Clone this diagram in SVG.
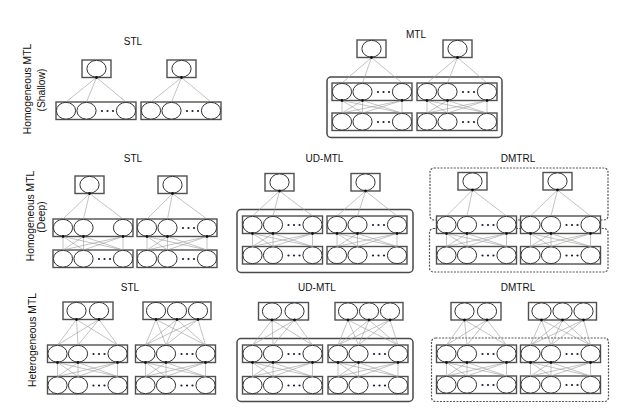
<svg xmlns="http://www.w3.org/2000/svg" xmlns:xlink="http://www.w3.org/1999/xlink" width="631" height="419" viewBox="0 0 631 419">
<style>
.box{fill:#fff;stroke:#505050;stroke-width:1.4}
.n{fill:#fff;stroke:#333;stroke-width:1}
.dot{fill:#1c1c3a}
.c{fill:none;stroke:#9a9a9a;stroke-width:0.6}
.ah{fill:#111}
.frame{fill:none;stroke:#4a4a4a;stroke-width:1.5}
.dash{fill:none;stroke:#555;stroke-width:1.2;stroke-dasharray:2 1.3}
.t{font-family:"Liberation Sans",Arial,sans-serif;font-size:10px;fill:#111;text-anchor:middle}
.lbl{font-family:"Liberation Sans",Arial,sans-serif;font-size:10.3px;fill:#111;text-anchor:middle}
</style>
<defs>
<g id="lay0">
<rect class="box" x="0" y="0" width="80" height="17.5"/>
<ellipse class="n" cx="10" cy="8.75" rx="9.6" ry="8.4"/>
<ellipse class="n" cx="30.5" cy="8.75" rx="9.6" ry="8.4"/>
<ellipse class="n" cx="70" cy="8.75" rx="9.6" ry="8.4"/>
</g>
<g id="lay">
<use href="#lay0"/>
<circle class="dot" cx="46" cy="9" r="1.1"/>
<circle class="dot" cx="51.5" cy="9" r="1.1"/>
<circle class="dot" cx="57" cy="9" r="1.1"/>
</g>
<g id="o1">
<rect class="box" x="0" y="0" width="29" height="17.5"/>
<ellipse class="n" cx="14.5" cy="8.75" rx="9.6" ry="8.4"/>
</g>
<g id="o2">
<rect class="box" x="0" y="0" width="50" height="17.5"/>
<ellipse class="n" cx="13.5" cy="8.75" rx="9.6" ry="8.4"/>
<ellipse class="n" cx="36" cy="8.75" rx="9.6" ry="8.4"/>
</g>
<g id="o3">
<rect class="box" x="0" y="0" width="68" height="17.5"/>
<ellipse class="n" cx="13" cy="8.75" rx="9.6" ry="8.4"/>
<ellipse class="n" cx="34" cy="8.75" rx="9.6" ry="8.4"/>
<ellipse class="n" cx="55" cy="8.75" rx="9.6" ry="8.4"/>
</g>
</defs>
<rect x="0" y="0" width="631" height="419" fill="#fff"/>

<g id="labels">
<text class="lbl" transform="translate(31,89) rotate(-90)">Homogeneous MTL</text>
<text class="lbl" transform="translate(44.5,90) rotate(-90)">(Shallow)</text>
<text class="lbl" transform="translate(34,216) rotate(-90)">Homogeneous MTL</text>
<text class="lbl" transform="translate(44.5,217) rotate(-90)">(Deep)</text>
<text class="lbl" transform="translate(36,340) rotate(-90)">Heterogeneous MTL</text>
<text class="t" x="133" y="45">STL</text>
<text class="t" x="416" y="38">MTL</text>
<text class="t" x="133" y="161.5">STL</text>
<text class="t" x="324.5" y="161.5">UD-MTL</text>
<text class="t" x="518" y="161.5">DMTRL</text>
<text class="t" x="130" y="291">STL</text>
<text class="t" x="317" y="291">UD-MTL</text>
<text class="t" x="518" y="291">DMTRL</text>
</g>

<g id="frames">
<rect id="f-mtl1" class="frame" x="327" y="77" width="175" height="60.5" rx="4"/>
<rect id="f-ud2" class="frame" x="237" y="209.5" width="176" height="63" rx="4"/>
<rect id="f-dm2a" class="dash" x="430" y="168" width="178" height="52" rx="4"/>
<rect id="f-dm2b" class="dash" x="429.5" y="228.5" width="178.5" height="43.5" rx="4"/>
<rect id="f-ud3" class="frame" x="237" y="338.5" width="176" height="63" rx="4"/>
<rect id="f-dm3" class="dash" x="431.5" y="338" width="177" height="63.5" rx="4"/>
</g>

<g id="r1-stl-out-a"><use href="#o1" x="82" y="60"/></g>
<g id="r1-stl-out-b"><use href="#o1" x="167" y="60"/></g>
<g id="r1-stl-in-a"><use href="#lay" x="56" y="102"/></g>
<g id="r1-stl-in-b"><use href="#lay" x="141" y="102"/></g>

<g id="r1-mtl-out-a"><use href="#o1" x="357" y="40"/></g>
<g id="r1-mtl-out-b"><use href="#o1" x="443" y="40"/></g>
<g id="r1-mtl-hid-a"><use href="#lay" x="332" y="83"/></g>
<g id="r1-mtl-hid-b"><use href="#lay" x="417" y="83"/></g>
<g id="r1-mtl-in-a"><use href="#lay" x="332" y="113"/></g>
<g id="r1-mtl-in-b"><use href="#lay" x="417" y="113"/></g>

<g id="r2-stl-out-a"><use href="#o1" x="75" y="176"/></g>
<g id="r2-stl-out-b"><use href="#o1" x="158" y="176"/></g>
<g id="r2-stl-hid-a"><use href="#lay0" x="53" y="219"/></g>
<g id="r2-stl-hid-b"><use href="#lay" x="137" y="219"/></g>
<g id="r2-stl-in-a"><use href="#lay" x="53" y="250"/></g>
<g id="r2-stl-in-b"><use href="#lay" x="137" y="250"/></g>

<g id="r2-ud-out-a"><use href="#o1" x="265" y="173.5"/></g>
<g id="r2-ud-out-b"><use href="#o1" x="351" y="173.5"/></g>
<g id="r2-ud-hid-a"><use href="#lay" x="242.5" y="216"/></g>
<g id="r2-ud-hid-b"><use href="#lay" x="327" y="216"/></g>
<g id="r2-ud-in-a"><use href="#lay" x="242.5" y="246.5"/></g>
<g id="r2-ud-in-b"><use href="#lay" x="327" y="246.5"/></g>

<g id="r2-dm-out-a"><use href="#o1" x="458" y="172.5"/></g>
<g id="r2-dm-out-b"><use href="#o1" x="543" y="172.5"/></g>
<g id="r2-dm-hid-a"><use href="#lay" x="436.5" y="216"/></g>
<g id="r2-dm-hid-b"><use href="#lay" x="520.5" y="216"/></g>
<g id="r2-dm-in-a"><use href="#lay" x="436.5" y="246.5"/></g>
<g id="r2-dm-in-b"><use href="#lay" x="520.5" y="246.5"/></g>

<g id="r3-stl-out-a"><use href="#o2" x="63" y="302"/></g>
<g id="r3-stl-out-b"><use href="#o3" x="143" y="302"/></g>
<g id="r3-stl-hid-a"><use href="#lay" x="47.5" y="345"/></g>
<g id="r3-stl-hid-b"><use href="#lay" x="135.5" y="345"/></g>
<g id="r3-stl-in-a"><use href="#lay" x="47.5" y="376.5"/></g>
<g id="r3-stl-in-b"><use href="#lay" x="135.5" y="376.5"/></g>

<g id="r3-ud-out-a"><use href="#o2" x="258.5" y="302.5"/></g>
<g id="r3-ud-out-b"><use href="#o3" x="335" y="302.5"/></g>
<g id="r3-ud-hid-a"><use href="#lay" x="242.5" y="345"/></g>
<g id="r3-ud-hid-b"><use href="#lay" x="328" y="345"/></g>
<g id="r3-ud-in-a"><use href="#lay" x="242.5" y="376.5"/></g>
<g id="r3-ud-in-b"><use href="#lay" x="328" y="376.5"/></g>

<g id="r3-dm-out-a"><use href="#o2" x="451" y="302.5"/></g>
<g id="r3-dm-out-b"><use href="#o3" x="528.5" y="302.5"/></g>
<g id="r3-dm-hid-a"><use href="#lay" x="436.5" y="345"/></g>
<g id="r3-dm-hid-b"><use href="#lay" x="520.5" y="345"/></g>
<g id="r3-dm-in-a"><use href="#lay" x="436.5" y="376"/></g>
<g id="r3-dm-in-b"><use href="#lay" x="520.5" y="376"/></g>

<g id="connectors">
<path class="c" d="M66 102L96.5 77.5M86.5 102L96.5 77.5M126 102L96.5 77.5M151 102L181.5 77.5M171.5 102L181.5 77.5M211 102L181.5 77.5"/>
<path class="c" d="M342 83L371.5 57.5M362.5 83L371.5 57.5M402 83L371.5 57.5M427 83L457.5 57.5M447.5 83L457.5 57.5M487 83L457.5 57.5"/>
<path class="c" d="M342 113L342 100.5M342 113L362.5 100.5M342 113L402 100.5M362.5 113L342 100.5M362.5 113L362.5 100.5M362.5 113L402 100.5M402 113L342 100.5M402 113L362.5 100.5M402 113L402 100.5"/>
<path class="c" d="M427 113L427 100.5M427 113L447.5 100.5M427 113L487 100.5M447.5 113L427 100.5M447.5 113L447.5 100.5M447.5 113L487 100.5M487 113L427 100.5M487 113L447.5 100.5M487 113L487 100.5"/>

<path class="c" d="M63 219L89.5 193.5M83.5 219L89.5 193.5M123 219L89.5 193.5M147 219L172.5 193.5M167.5 219L172.5 193.5M207 219L172.5 193.5"/>
<path class="c" d="M63 250L63 236.5M63 250L83.5 236.5M63 250L123 236.5M83.5 250L63 236.5M83.5 250L83.5 236.5M83.5 250L123 236.5M123 250L63 236.5M123 250L83.5 236.5M123 250L123 236.5"/>
<path class="c" d="M147 250L147 236.5M147 250L167.5 236.5M147 250L207 236.5M167.5 250L147 236.5M167.5 250L167.5 236.5M167.5 250L207 236.5M207 250L147 236.5M207 250L167.5 236.5M207 250L207 236.5"/>

<path class="c" d="M252.5 216L279.5 191M273 216L279.5 191M312.5 216L279.5 191M337 216L365.5 191M357.5 216L365.5 191M397 216L365.5 191"/>
<path class="c" d="M252.5 246.5L252.5 233.5M252.5 246.5L273 233.5M252.5 246.5L312.5 233.5M273 246.5L252.5 233.5M273 246.5L273 233.5M273 246.5L312.5 233.5M312.5 246.5L252.5 233.5M312.5 246.5L273 233.5M312.5 246.5L312.5 233.5"/>
<path class="c" d="M337 246.5L337 233.5M337 246.5L357.5 233.5M337 246.5L397 233.5M357.5 246.5L337 233.5M357.5 246.5L357.5 233.5M357.5 246.5L397 233.5M397 246.5L337 233.5M397 246.5L357.5 233.5M397 246.5L397 233.5"/>

<path class="c" d="M446.5 216L472.5 190M467 216L472.5 190M506.5 216L472.5 190M530.5 216L557.5 190M551 216L557.5 190M590.5 216L557.5 190"/>
<path class="c" d="M446.5 246.5L446.5 233.5M446.5 246.5L467 233.5M446.5 246.5L506.5 233.5M467 246.5L446.5 233.5M467 246.5L467 233.5M467 246.5L506.5 233.5M506.5 246.5L446.5 233.5M506.5 246.5L467 233.5M506.5 246.5L506.5 233.5"/>
<path class="c" d="M530.5 246.5L530.5 233.5M530.5 246.5L551 233.5M530.5 246.5L590.5 233.5M551 246.5L530.5 233.5M551 246.5L551 233.5M551 246.5L590.5 233.5M590.5 246.5L530.5 233.5M590.5 246.5L551 233.5M590.5 246.5L590.5 233.5"/>

<path class="c" d="M57.5 345L76.5 319.5M78 345L76.5 319.5M117.5 345L76.5 319.5M57.5 345L99 319.5M78 345L99 319.5M117.5 345L99 319.5"/>
<path class="c" d="M145.5 345L156 319.5M166 345L156 319.5M205.5 345L156 319.5M145.5 345L177 319.5M166 345L177 319.5M205.5 345L177 319.5M145.5 345L198 319.5M166 345L198 319.5M205.5 345L198 319.5"/>
<path class="c" d="M57.5 376.5L57.5 362.5M57.5 376.5L78 362.5M57.5 376.5L117.5 362.5M78 376.5L57.5 362.5M78 376.5L78 362.5M78 376.5L117.5 362.5M117.5 376.5L57.5 362.5M117.5 376.5L78 362.5M117.5 376.5L117.5 362.5"/>
<path class="c" d="M145.5 376.5L145.5 362.5M145.5 376.5L166 362.5M145.5 376.5L205.5 362.5M166 376.5L145.5 362.5M166 376.5L166 362.5M166 376.5L205.5 362.5M205.5 376.5L145.5 362.5M205.5 376.5L166 362.5M205.5 376.5L205.5 362.5"/>

<path class="c" d="M252.5 345L272 320M273 345L272 320M312.5 345L272 320M252.5 345L294.5 320M273 345L294.5 320M312.5 345L294.5 320"/>
<path class="c" d="M338 345L348 320M358.5 345L348 320M398 345L348 320M338 345L369 320M358.5 345L369 320M398 345L369 320M338 345L390 320M358.5 345L390 320M398 345L390 320"/>
<path class="c" d="M252.5 376.5L252.5 362.5M252.5 376.5L273 362.5M252.5 376.5L312.5 362.5M273 376.5L252.5 362.5M273 376.5L273 362.5M273 376.5L312.5 362.5M312.5 376.5L252.5 362.5M312.5 376.5L273 362.5M312.5 376.5L312.5 362.5"/>
<path class="c" d="M338 376.5L338 362.5M338 376.5L358.5 362.5M338 376.5L398 362.5M358.5 376.5L338 362.5M358.5 376.5L358.5 362.5M358.5 376.5L398 362.5M398 376.5L338 362.5M398 376.5L358.5 362.5M398 376.5L398 362.5"/>

<path class="c" d="M446.5 345L464.5 320M467 345L464.5 320M506.5 345L464.5 320M446.5 345L487 320M467 345L487 320M506.5 345L487 320"/>
<path class="c" d="M530.5 345L541.5 320M551 345L541.5 320M590.5 345L541.5 320M530.5 345L562.5 320M551 345L562.5 320M590.5 345L562.5 320M530.5 345L583.5 320M551 345L583.5 320M590.5 345L583.5 320"/>
<path class="c" d="M446.5 376L446.5 362.5M446.5 376L467 362.5M446.5 376L506.5 362.5M467 376L446.5 362.5M467 376L467 362.5M467 376L506.5 362.5M506.5 376L446.5 362.5M506.5 376L467 362.5M506.5 376L506.5 362.5"/>
<path class="c" d="M530.5 376L530.5 362.5M530.5 376L551 362.5M530.5 376L590.5 362.5M551 376L530.5 362.5M551 376L551 362.5M551 376L590.5 362.5M590.5 376L530.5 362.5M590.5 376L551 362.5M590.5 376L590.5 362.5"/>

<g class="ah">
<circle cx="96.5" cy="77.5" r="1.4"/><circle cx="181.5" cy="77.5" r="1.4"/>
<circle cx="371.5" cy="57.5" r="1.4"/><circle cx="457.5" cy="57.5" r="1.4"/>
<circle cx="342" cy="100.5" r="1.4"/><circle cx="362.5" cy="100.5" r="1.4"/><circle cx="402" cy="100.5" r="1.4"/>
<circle cx="427" cy="100.5" r="1.4"/><circle cx="447.5" cy="100.5" r="1.4"/><circle cx="487" cy="100.5" r="1.4"/>
<circle cx="89.5" cy="193.5" r="1.4"/><circle cx="172.5" cy="193.5" r="1.4"/>
<circle cx="279.5" cy="191" r="1.4"/><circle cx="365.5" cy="191" r="1.4"/>
<circle cx="472.5" cy="190" r="1.4"/><circle cx="557.5" cy="190" r="1.4"/>
<circle cx="63" cy="236.5" r="1.4"/><circle cx="83.5" cy="236.5" r="1.4"/><circle cx="123" cy="236.5" r="1.4"/>
<circle cx="147" cy="236.5" r="1.4"/><circle cx="167.5" cy="236.5" r="1.4"/><circle cx="207" cy="236.5" r="1.4"/>
<circle cx="252.5" cy="233.5" r="1.4"/><circle cx="273" cy="233.5" r="1.4"/><circle cx="312.5" cy="233.5" r="1.4"/>
<circle cx="337" cy="233.5" r="1.4"/><circle cx="357.5" cy="233.5" r="1.4"/><circle cx="397" cy="233.5" r="1.4"/>
<circle cx="446.5" cy="233.5" r="1.4"/><circle cx="467" cy="233.5" r="1.4"/><circle cx="506.5" cy="233.5" r="1.4"/>
<circle cx="530.5" cy="233.5" r="1.4"/><circle cx="551" cy="233.5" r="1.4"/><circle cx="590.5" cy="233.5" r="1.4"/>
<circle cx="76.5" cy="319.5" r="1.4"/><circle cx="99" cy="319.5" r="1.4"/>
<circle cx="156" cy="319.5" r="1.4"/><circle cx="177" cy="319.5" r="1.4"/><circle cx="198" cy="319.5" r="1.4"/>
<circle cx="272" cy="320" r="1.4"/><circle cx="294.5" cy="320" r="1.4"/>
<circle cx="348" cy="320" r="1.4"/><circle cx="369" cy="320" r="1.4"/><circle cx="390" cy="320" r="1.4"/>
<circle cx="464.5" cy="320" r="1.4"/><circle cx="487" cy="320" r="1.4"/>
<circle cx="541.5" cy="320" r="1.4"/><circle cx="562.5" cy="320" r="1.4"/><circle cx="583.5" cy="320" r="1.4"/>
<circle cx="57.5" cy="362.5" r="1.4"/><circle cx="78" cy="362.5" r="1.4"/><circle cx="117.5" cy="362.5" r="1.4"/>
<circle cx="145.5" cy="362.5" r="1.4"/><circle cx="166" cy="362.5" r="1.4"/><circle cx="205.5" cy="362.5" r="1.4"/>
<circle cx="252.5" cy="362.5" r="1.4"/><circle cx="273" cy="362.5" r="1.4"/><circle cx="312.5" cy="362.5" r="1.4"/>
<circle cx="338" cy="362.5" r="1.4"/><circle cx="358.5" cy="362.5" r="1.4"/><circle cx="398" cy="362.5" r="1.4"/>
<circle cx="446.5" cy="362.5" r="1.4"/><circle cx="467" cy="362.5" r="1.4"/><circle cx="506.5" cy="362.5" r="1.4"/>
<circle cx="530.5" cy="362.5" r="1.4"/><circle cx="551" cy="362.5" r="1.4"/><circle cx="590.5" cy="362.5" r="1.4"/>
</g>
</g>
</svg>
